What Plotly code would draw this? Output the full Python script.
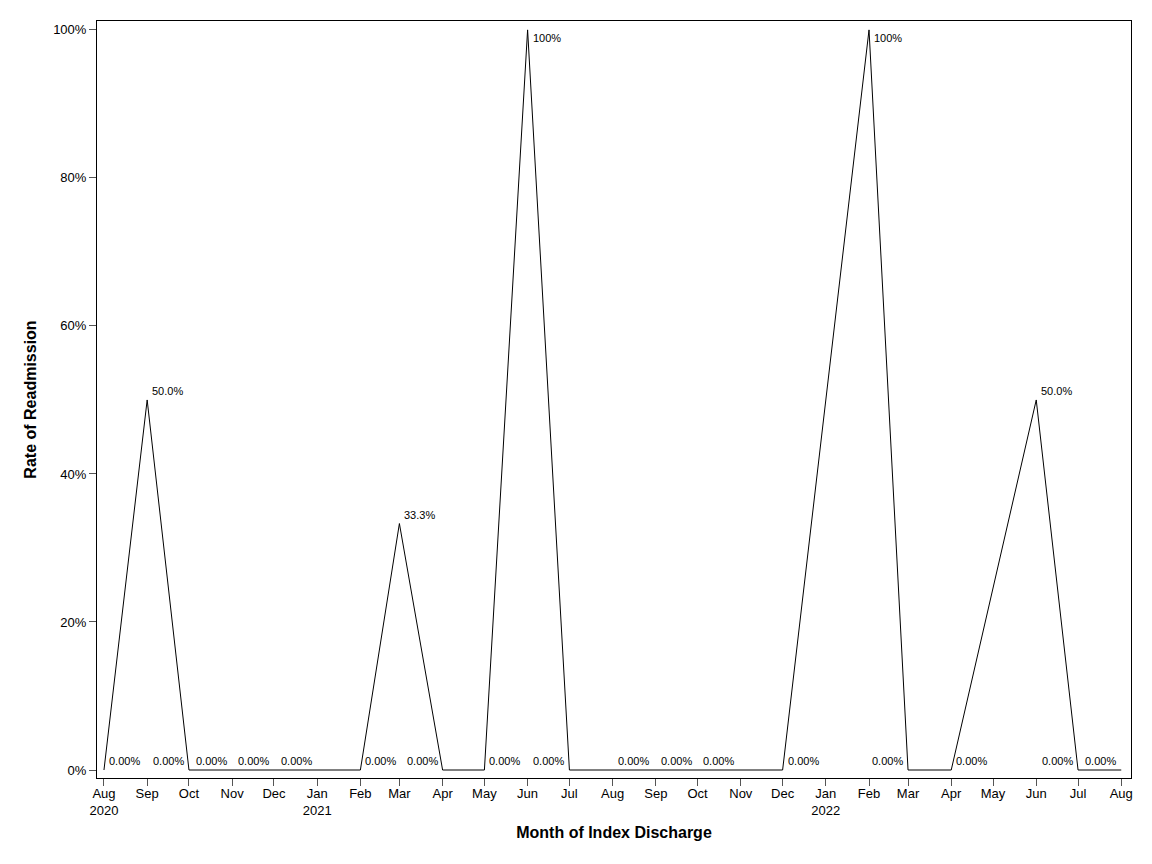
import plotly.graph_objects as go

# monthly readmission rate, months without discharges are left out
months = ["2020-08-01", "2020-09-01", "2020-10-01", "2020-11-01", "2020-12-01",
          "2021-01-01", "2021-02-01", "2021-03-01", "2021-04-01", "2021-05-01",
          "2021-06-01", "2021-07-01", "2021-08-01", "2021-09-01", "2021-10-01",
          "2021-12-01", "2022-02-01", "2022-03-01", "2022-04-01", "2022-06-01",
          "2022-07-01", "2022-08-01"]
rate = [0.0, 0.5, 0.0, 0.0, 0.0,
        0.0, 0.0, 0.333, 0.0, 0.0,
        1.0, 0.0, 0.0, 0.0, 0.0,
        0.0, 1.0, 0.0, 0.0, 0.5,
        0.0, 0.0]
labels = ["0.00%", "50.0%", "0.00%", "0.00%", "0.00%",
          "0.00%", "0.00%", "33.3%", "0.00%", "0.00%",
          "100%", "0.00%", "0.00%", "0.00%", "0.00%",
          "0.00%", "100%", "0.00%", "0.00%", "50.0%",
          "0.00%", "0.00%"]
# which side of the point each label sits on
label_side = ["right", "right", "left", "left", "left",
              "left", "right", "right", "left", "right",
              "right", "left", "right", "right", "right",
              "right", "right", "left", "right", "right",
              "left", "left"]

tick_dates = ["2020-08-01", "2020-09-01", "2020-10-01", "2020-11-01", "2020-12-01",
              "2021-01-01", "2021-02-01", "2021-03-01", "2021-04-01", "2021-05-01",
              "2021-06-01", "2021-07-01", "2021-08-01", "2021-09-01", "2021-10-01",
              "2021-11-01", "2021-12-01", "2022-01-01", "2022-02-01", "2022-03-01",
              "2022-04-01", "2022-05-01", "2022-06-01", "2022-07-01", "2022-08-01"]
tick_text = ["Aug<br>2020", "Sep", "Oct", "Nov", "Dec",
             "Jan<br>2021", "Feb", "Mar", "Apr", "May",
             "Jun", "Jul", "Aug", "Sep", "Oct",
             "Nov", "Dec", "Jan<br>2022", "Feb", "Mar",
             "Apr", "May", "Jun", "Jul", "Aug"]

fig = go.Figure()
fig.add_trace(go.Scatter(
    x=months, y=rate, mode="lines",
    line=dict(color="black", width=1),
    showlegend=False,
))

for d, v, t, s in zip(months, rate, labels, label_side):
    top = v >= 1.0
    fig.add_annotation(
        x=d, y=v, text=t, showarrow=False,
        font=dict(size=11, color="black"),
        xanchor="left" if s == "right" else "right",
        yanchor="top" if top else "bottom",
        xshift=3 if s == "right" else -3,
        yshift=0 if top else 1,
    )

fig.update_layout(
    width=1152, height=864,
    margin=dict(l=89, r=29, t=13, b=94),
    paper_bgcolor="white", plot_bgcolor="white",
    font=dict(family="Liberation Sans, Arial, sans-serif", size=13, color="black"),
    xaxis=dict(
        range=["2020-07-27", "2022-08-08"],
        tickvals=tick_dates, ticktext=tick_text,
        ticks="outside", ticklen=7, tickcolor="#555",
        ticklabelstandoff=-4,
        showgrid=False, zeroline=False,
        showline=True, linecolor="black", linewidth=1, mirror=True,
        title=dict(text="<b>Month of Index Discharge</b>", font=dict(size=16), standoff=10),
    ),
    yaxis=dict(
        range=[-0.0108, 1.012],
        tickvals=[0, 0.2, 0.4, 0.6, 0.8, 1.0],
        ticktext=["0%", "20%", "40%", "60%", "80%", "100%"],
        ticks="outside", ticklen=7, tickcolor="#555",
        showgrid=False, zeroline=False,
        showline=True, linecolor="black", linewidth=1, mirror=True,
        title=dict(text="<b>Rate of Readmission</b>", font=dict(size=16), standoff=12),
    ),
)

fig.write_html("out.html")
